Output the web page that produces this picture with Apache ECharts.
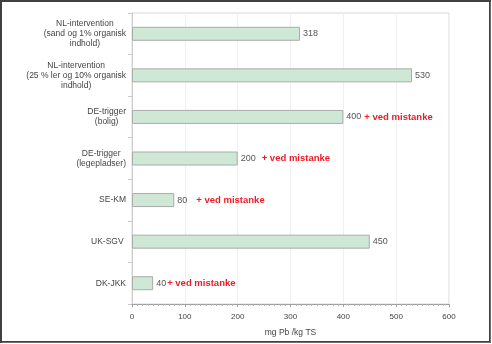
<!DOCTYPE html>
<html><head><meta charset="utf-8">
<script src="https://cdn.jsdelivr.net/npm/echarts@6/dist/echarts.min.js"></script>
<style>html,body{margin:0;padding:0;background:#fff}#c{width:492px;height:344px}</style>
</head><body><div id="c"></div>
<script>
var categories = [
  "NL-intervention\n(sand og 1% organisk\nindhold)",
  "NL-intervention\n(25 % ler og 10% organisk\nindhold)",
  "DE-trigger\n(bolig)",
  "DE-trigger\n(legepladser)",
  "SE-KM",
  "UK-SGV ",
  "DK-JKK"
];
var values = [318, 530, 400, 200, 80, 450, 40];
var notes = ["", "", "+ ved mistanke", "+ ved mistanke", "+ ved mistanke", "", "+ ved mistanke"];
var noteGaps = [0, 0, 3, 6, 9, 0, 1];
var xTicks = [0, 100, 200, 300, 400, 500, 600];
var xName = "mg Pb /kg TS";

var FONT = "Liberation Sans, Arial, sans-serif";
var chart = echarts.init(document.getElementById('c'), null, {renderer: 'canvas'});
var data = values.map(function (v, i) {
  return {
    value: v,
    label: {
      formatter: notes[i] ? '{v|' + v + '}{r|' + notes[i] + '}' : '{v|' + v + '}',
      rich: {
        v: {color: '#555', fontSize: 9, fontFamily: FONT},
        r: {color: '#ee1c25', fontSize: 9.5, fontWeight: 'bold', fontFamily: FONT, padding: [0, 0, 0, noteGaps[i]]}
      }
    }
  };
});
chart.setOption({
  animation: false,
  backgroundColor: '#fff',
  grid: {left: 132, right: 43, top: 13, bottom: 40, show: true, borderColor: '#d8d8d8', borderWidth: 1},
  xAxis: {
    type: 'value', min: xTicks[0], max: xTicks[xTicks.length - 1], interval: 100,
    name: xName, nameLocation: 'middle', nameGap: 24,
    nameTextStyle: {color: '#444', fontSize: 8.5, fontFamily: FONT},
    axisLine: {show: true, lineStyle: {color: '#a0a0a0'}},
    axisTick: {show: true, length: 3, lineStyle: {color: '#a0a0a0'}},
    minorTick: {show: true, splitNumber: 10, length: 2, lineStyle: {color: '#b0b0b0'}},
    axisLabel: {color: '#444', fontSize: 8, fontFamily: FONT, margin: 9},
    splitLine: {show: true, lineStyle: {color: '#f0f0f0'}}
  },
  yAxis: {
    type: 'category', data: categories, inverse: true,
    axisLine: {show: true, lineStyle: {color: '#d0d0d0'}},
    axisTick: {show: true, length: 4, lineStyle: {color: '#c8c8c8'}},
    axisLabel: {
      color: '#444', fontSize: 8.5, fontFamily: FONT, margin: 6, lineHeight: 10,
      formatter: function (s) { return s.split('\n').map(function (l) { return '{a|' + l + '}'; }).join('\n'); },
      rich: {a: {align: 'center', color: '#444', fontSize: 8.5, fontFamily: FONT, lineHeight: 10}}
    }
  },
  series: [{
    type: 'bar', data: data, barWidth: 14,
    itemStyle: {color: '#cfe8d6', borderColor: '#a8aca8', borderWidth: 1},
    label: {show: true, position: 'right', distance: 3}
  }],
  graphic: [
    {type: 'rect', shape: {x: 1, y: 1, width: 489, height: 341}, style: {fill: 'none', stroke: '#404040', lineWidth: 2}, z: 100},
    {type: 'line', shape: {x1: 490.5, y1: 2, x2: 490.5, y2: 343}, style: {stroke: '#707070', lineWidth: 1}, z: 100},
    {type: 'line', shape: {x1: 2, y1: 342.5, x2: 491, y2: 342.5}, style: {stroke: '#707070', lineWidth: 1}, z: 100}
  ]
});
</script></body></html>
